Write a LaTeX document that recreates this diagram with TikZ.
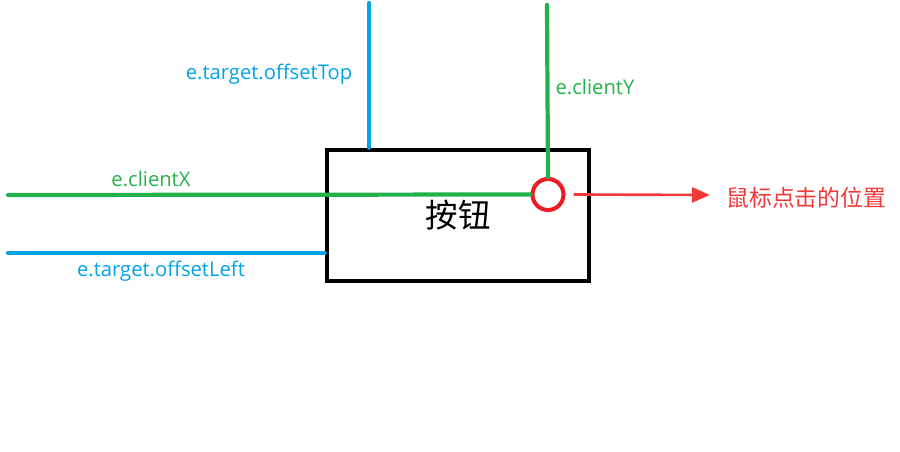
\documentclass[tikz,border=0pt]{standalone}
\usepackage{fontspec}
\setmainfont{Open Sans}
\newfontfamily\cjk{Noto Sans CJK SC}
\usetikzlibrary{arrows.meta}
\definecolor{lineblue}{RGB}{0,162,232}
\definecolor{linegreen}{RGB}{34,177,76}
\definecolor{markred}{RGB}{237,28,36}
\definecolor{notered}{RGB}{240,58,58}
\newcommand{\labelfont}{\fontsize{11.5}{14}\selectfont}
\begin{document}
\begin{tikzpicture}[x=0.02cm, y=-0.02cm,
  bluemeasure/.style={draw=lineblue, line width=2.4pt, line cap=round},
  greenmeasure/.style={draw=linegreen, line width=2.4pt, line cap=round},
  bluelabel/.style={text=lineblue, font=\labelfont, inner sep=0pt},
  greenlabel/.style={text=linegreen, font=\labelfont, inner sep=0pt}]
  \useasboundingbox (0,0) rectangle (900,452);
  %the button and the click point
  \node[draw=black, line width=2.6pt, minimum width=5.24cm,
    minimum height=2.62cm, font=\cjk\fontsize{18.5}{20}\selectfont]
    (btn) at (458,215.5) {按钮};
  \node[draw=markred, line width=2.3pt, circle, inner sep=0pt,
    minimum size=0.62cm] (click) at (548,194.5) {};
  %free ends of the measuring lines
  \coordinate (topend) at (369,3);
  \coordinate (leftend) at (8,253);
  \coordinate (xend) at (8,195);
  \coordinate (yend) at (547,5);
  \draw[bluemeasure] (topend) -- (topend |- btn.north);
  \draw[bluemeasure] (leftend) -- (leftend -| btn.west);
  \draw[greenmeasure] (xend) -- (click.west);
  \draw[greenmeasure] (yend) -- (click.north);
  %labels
  \node[bluelabel] (toplabel) at (269,74) {e.target.offsetTop};
  \node[bluelabel] (leftlabel) at (161,271) {e.target.offsetLeft};
  \node[greenlabel] (xlabel) at (151,179) {e.clientX};
  \node[greenlabel] (ylabel) at (595,87) {e.clientY};
  %the note
  \node[text=notered, font=\cjk\fontsize{13}{15}\selectfont, anchor=west,
    inner sep=0pt] (note) at (726,198) {鼠标点击的位置};
  \coordinate (tip) at (710,195);
  \draw[notered, line width=1.5pt,
    -{Triangle[length=18*0.02cm, width=15*0.02cm]}]
    ([xshift=8*0.02cm]click.east) -- (tip);
\end{tikzpicture}
\end{document}
